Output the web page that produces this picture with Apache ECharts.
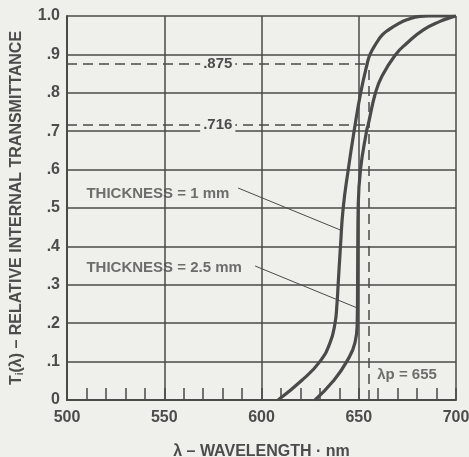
<!DOCTYPE html>
<html>
<head>
<meta charset="utf-8">
<script src="https://cdn.jsdelivr.net/npm/echarts@6/dist/echarts.min.js"></script>
<style>
  html, body { margin: 0; padding: 0; background: #efefec; }
  #chart { width: 469px; height: 457px; }
</style>
</head>
<body>
<div id="chart"></div>
<script>
// wavelength (nm), relative internal transmittance
const thickness1mm = [[608.5, 0], [620.5, 0.05], [630, 0.1], [635.3, 0.15], [637.8, 0.2], [638.8, 0.25],
  [639.4, 0.3], [640.6, 0.4], [642, 0.5], [644.6, 0.6], [647.6, 0.7], [651, 0.8], [654.3, 0.875], [655.8, 0.9],
  [659, 0.929], [662, 0.95], [665.3, 0.964], [670, 0.979], [674.7, 0.99], [681.5, 0.999], [686, 1.0], [700, 1.0]];
const thickness25mm = [[627.5, 0], [637, 0.05], [643.8, 0.1], [648.1, 0.15], [649.2, 0.2], [649.4, 0.3],
  [649.5, 0.4], [649.7, 0.5], [650.9, 0.6], [654, 0.7], [654.8, 0.716], [658.6, 0.8], [661.8, 0.842],
  [668.7, 0.898], [674.7, 0.929], [683.2, 0.964], [691.8, 0.986], [698.6, 0.998], [700, 1.0]];

const peakWavelength = 655;
const refLevels = [0.875, 0.716];
const refLabels = ['.875', '.716'];

// annotation text and arrows: [x, y] in data units
const notes = [
  { text: 'THICKNESS = 1 mm', at: [510, 0.538], from: [588, 0.552], to: [640.4, 0.443] },
  { text: 'THICKNESS = 2.5 mm', at: [510, 0.343], from: [596.7, 0.349], to: [648.6, 0.241] }
];
const peakLabel = 'λp = 655';

const ink = '#4a4a4a';
const bg = '#efefec';
const font = { fontFamily: 'Liberation Sans', fontWeight: 'bold', fontSize: 15, color: '#4c4c4c' };
const bigFont = Object.assign({}, font, { fontSize: 16 });

const chart = echarts.init(document.getElementById('chart'));

const refLines = refLevels.map((v, i) => [
  { coord: [500, v], label: { formatter: refLabels[i] } },
  { coord: [peakWavelength, v] }
]);
refLines.push([{ coord: [peakWavelength, 0], label: { show: false } }, { coord: [peakWavelength, refLevels[0]] }]);

const option = {
  backgroundColor: bg,
  animation: false,
  grid: { left: 67, right: 13, top: 16, bottom: 57, containLabel: false, outerBoundsMode: 'none' },
  xAxis: {
    type: 'value', min: 500, max: 700, interval: 50,
    name: 'λ – WAVELENGTH · nm', nameLocation: 'middle', nameGap: 44,
    nameTextStyle: Object.assign({}, bigFont),
    axisLine: { show: true, lineStyle: { color: ink, width: 2 } },
    axisTick: { show: true, inside: true, length: 12, lineStyle: { color: ink, width: 1.5 } },
    minorTick: { show: true, splitNumber: 5, length: 12, lineStyle: { color: ink, width: 1.5 } },
    axisLabel: Object.assign({ margin: 10 }, bigFont),
    splitLine: { show: true, lineStyle: { color: ink, width: 1.5 } }
  },
  yAxis: {
    type: 'value', min: 0, max: 1, interval: 0.1,
    name: '{a|T}{s|i}{a|(λ) – RELATIVE INTERNAL TRANSMITTANCE}',
    nameLocation: 'middle', nameGap: 42, nameRotate: 90,
    nameTextStyle: {
      rich: {
        a: Object.assign({}, bigFont),
        s: Object.assign({}, bigFont, { fontSize: 10, padding: [0, 0, -6, 0] })
      }
    },
    axisLine: { show: true, lineStyle: { color: ink, width: 2 } },
    axisTick: { show: false },
    axisLabel: Object.assign({
      margin: 7,
      formatter: v => v === 0 ? '0' : v >= 1 ? '1.0' : '.' + Math.round(v * 10)
    }, bigFont),
    splitLine: { show: true, lineStyle: { color: ink, width: 1.5 } }
  },
  series: [
    {
      name: 'THICKNESS = 1 mm', type: 'line', data: thickness1mm, smooth: 0.5,
      showSymbol: false, z: 5, lineStyle: { color: ink, width: 3.2 }
    },
    {
      name: 'THICKNESS = 2.5 mm', type: 'line', data: thickness25mm, smooth: 0.5,
      showSymbol: false, z: 5, lineStyle: { color: ink, width: 3.2 }
    },
    {
      type: 'line', data: [], z: 3,
      markLine: {
        silent: true, symbol: ['none', 'none'], animation: false,
        lineStyle: { color: ink, width: 1.5, type: [10, 6] },
        label: Object.assign({ show: true, position: 'insideMiddle', backgroundColor: bg, padding: [0, 3] }, font),
        data: refLines
      }
    },
    {
      type: 'line', data: [], z: 6,
      markLine: {
        silent: true, symbol: ['none', 'arrow'], symbolSize: [0, 10], animation: false,
        lineStyle: { color: ink, width: 1, type: 'solid' },
        label: { show: false },
        data: notes.map(n => [{ coord: n.from }, { coord: n.to }])
      }
    },
    {
      type: 'scatter', symbolSize: 0, z: 7, silent: true,
      data: notes.map(n => ({ value: n.at, name: n.text }))
        .concat([{ value: [659.5, 0.066], name: peakLabel }]),
      label: Object.assign({ show: true, position: 'right', distance: 0, formatter: p => p.name }, font)
    }
  ]
};

chart.setOption(option);
</script>
</body>
</html>
